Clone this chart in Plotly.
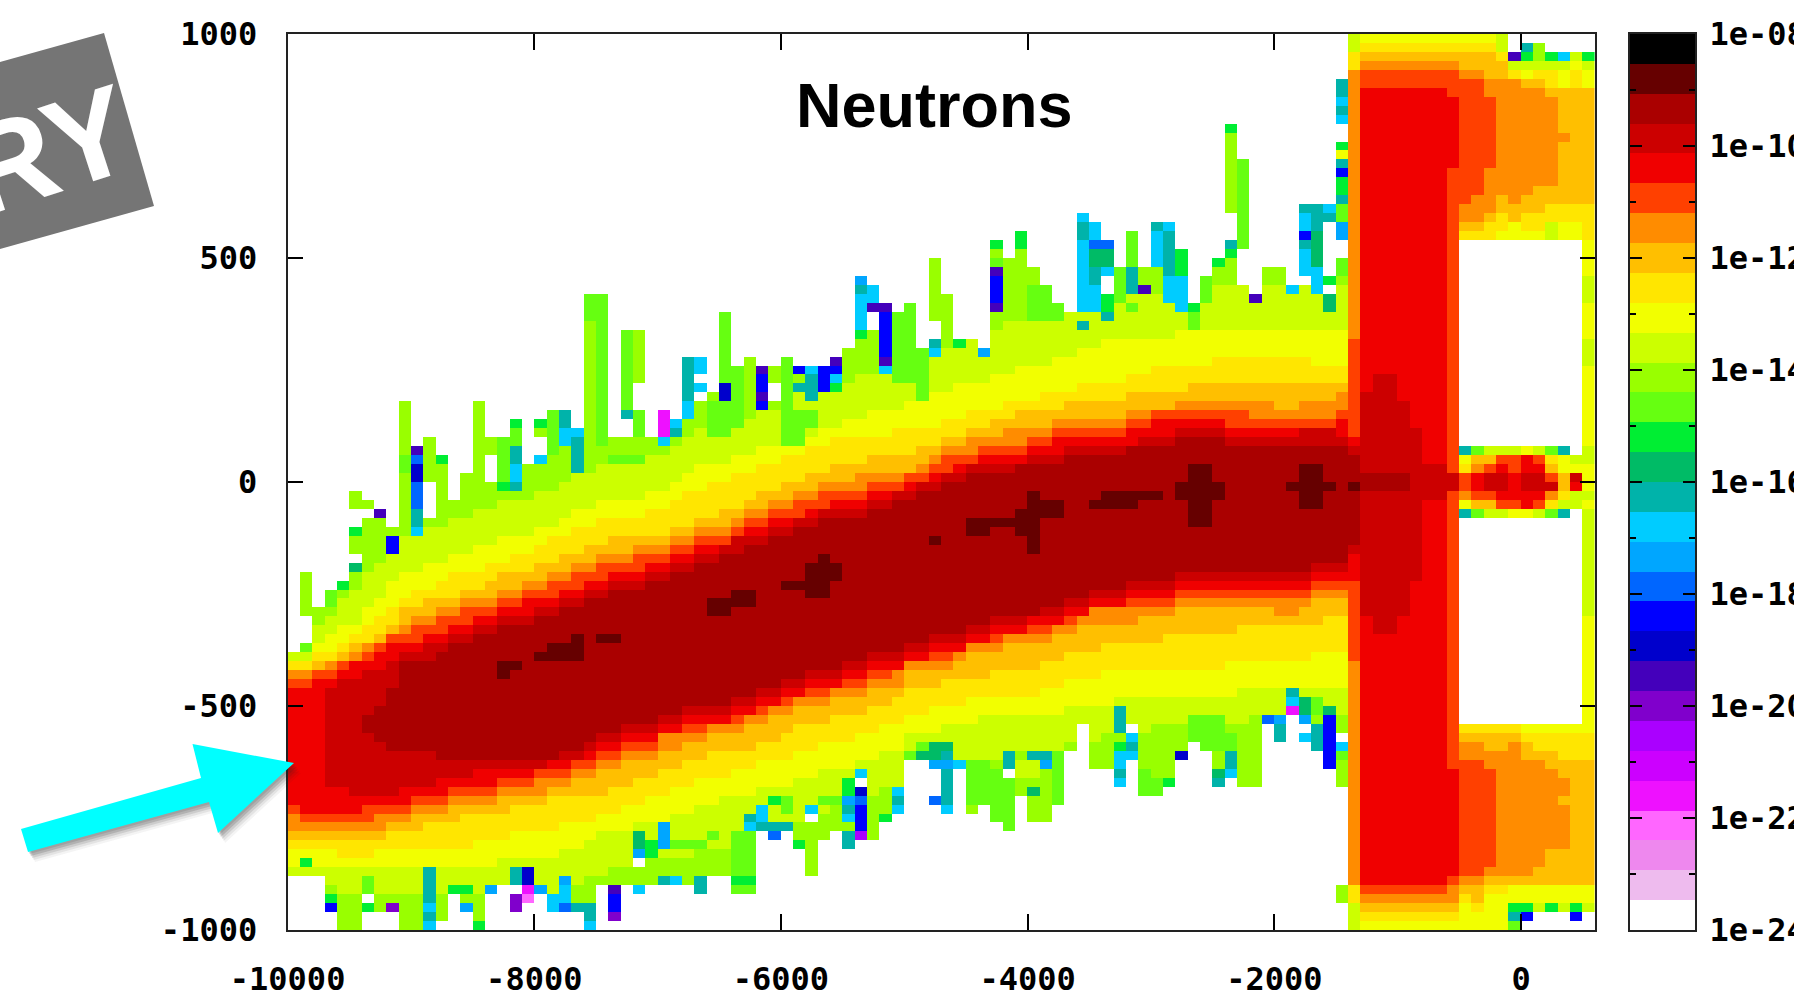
import plotly.graph_objects as go

PAGE_W, PAGE_H = 1794, 994
X_EDGE0, X_STEP, N_COLS = -10000, 100, 106
Y_EDGE0, Y_STEP, N_ROWS = -1000, 20, 100

band_colors = ["#000000", "#660000", "#aa0000", "#cc0000", "#f00000", "#ff4000", "#ff8c00", "#ffbf00",
               "#ffe600", "#f2ff00", "#ccff00", "#99ff00", "#66ff11", "#00ee33", "#00bb66", "#00b3aa",
               "#00ccff", "#00a6ff", "#0066ff", "#0000ff", "#0000cc", "#4400bb", "#8000cc", "#aa00ff",
               "#cc00ff", "#ee11ff", "#ff66ff", "#ee88ee", "#eebbee", "#ffffff"]

x_ticks = [-10000, -8000, -6000, -4000, -2000, 0]
x_labels = ["-10000", "-8000", "-6000", "-4000", "-2000", "0"]
y_ticks = [-1000, -500, 0, 500, 1000]
y_labels = ["-1000", "-500", "0", "500", "1000"]
cb_ticks = [-24, -22, -20, -18, -16, -14, -12, -10, -8]
cb_labels = ["1e-24", "1e-22", "1e-20", "1e-18", "1e-16", "1e-14", "1e-12", "1e-10", "1e-08"]
cb_minor = [-23, -21, -19, -17, -15, -13, -11, -9]

top_edge = [-380,-200,-282,-240,-219,-22,-40,-63,-100,175,
            75,95,40,-40,15,175,95,95,130,40,
            130,150,150,95,412,413,93,335,335,93,
            152,134,275,275,193,372,253,275,253,253,
            275,253,253,253,275,294,453,431,394,372,
            394,294,496,413,312,312,294,531,496,555,
            472,431,394,372,591,572,531,472,555,472,
            572,572,513,394,453,496,795,717,413,472,
            472,431,613,613,613,895]
bottom_edge = [-877,-877,-877,-962,-996,-996,-962,-962,-962,-996,
               -996,-996,-979,-918,-962,-996,-918,-900,-962,-940,
               -918,-962,-962,-962,-996,-900,-978,-900,-918,-900,
               -900,-900,-900,-918,-880,-880,-918,-918,-784,-799,
               -784,-815,-877,-799,-784,-815,-799,-799,-758,-740,
               -620,-620,-720,-740,-638,-740,-720,-758,-780,-698,
               -758,-758,-720,-598,-539,-639,-639,-680,-620,-698,
               -698,-680,-620,-580,-598,-680,-658,-680,-680,-539,
               -580,-520,-565,-595,-639,-680]

t2 = [-600,-600,-600,-600,-600,-600,-520,-500,-460,-400,
      -400,-400,-380,-360,-360,-340,-340,-320,-320,-320,
      -300,-300,-280,-280,-260,-260,-240,-240,-240,-220,
      -220,-200,-200,-180,-180,-160,-160,-140,-140,-120,
      -120,-100,-100,-80,-80,-80,-80,-60,-60,-40,
      -40,-20,-20,0,0,20,20,20,20,40,
      40,40,40,60,60,60,60,60,80,80,
      80,80,100,100,100,100,80,80,80,80,
      80,80,80,80,80,80]
b2 = [-600,-600,-600,-600,-600,-600,-560,-580,-600,-600,
      -600,-600,-620,-620,-620,-620,-620,-620,-620,-620,
      -620,-620,-600,-600,-580,-560,-560,-540,-540,-540,
      -520,-520,-500,-500,-500,-500,-480,-480,-460,-460,
      -440,-440,-420,-420,-420,-400,-400,-380,-380,-380,
      -360,-360,-340,-340,-340,-320,-320,-300,-300,-300,
      -300,-280,-280,-260,-260,-240,-240,-240,-220,-220,
      -220,-220,-200,-200,-200,-200,-200,-200,-200,-200,
      -200,-200,-200,-180,-180,-180]
t3 = [-600,-600,-600,-460,-440,-440,-420,-420,-400,-380,
      -380,-360,-360,-340,-340,-320,-320,-300,-300,-300,
      -280,-280,-260,-260,-240,-240,-220,-220,-220,-200,
      -200,-180,-180,-160,-160,-140,-120,-120,-120,-100,
      -100,-80,-80,-60,-60,-60,-60,-40,-40,-20,
      -20,0,0,20,20,40,40,40,40,40,
      60,60,60,80,80,80,80,80,80,100,
      100,100,120,120,120,120,100,100,100,100,
      100,100,120,120,120,100]
b3 = [-600,-600,-600,-680,-680,-700,-700,-700,-700,-680,
      -680,-680,-660,-660,-660,-640,-640,-640,-640,-640,
      -640,-620,-620,-620,-600,-580,-580,-560,-560,-560,
      -540,-540,-520,-520,-520,-520,-500,-500,-480,-480,
      -460,-460,-440,-440,-440,-420,-420,-400,-400,-400,
      -380,-380,-360,-360,-360,-340,-340,-320,-320,-320,
      -300,-300,-300,-280,-280,-260,-260,-260,-240,-240,
      -240,-240,-220,-220,-220,-220,-220,-220,-220,-220,
      -220,-220,-220,-200,-200,-200]
t4 = [-460,-460,-440,-440,-420,-400,-400,-380,-360,-360,
      -360,-340,-340,-320,-320,-300,-300,-280,-280,-260,
      -260,-260,-240,-240,-220,-220,-200,-200,-200,-180,
      -180,-160,-160,-140,-140,-140,-120,-100,-100,-80,
      -80,-80,-60,-60,-40,-40,-40,-20,-20,-20,
      0,0,20,20,40,40,60,60,60,60,
      80,80,100,100,100,100,100,100,120,120,
      140,140,140,140,140,140,120,120,120,120,
      120,120,120,120,120,140]
b4 = [-720,-740,-740,-740,-740,-740,-720,-720,-720,-720,
      -700,-700,-700,-680,-680,-680,-680,-660,-660,-660,
      -640,-640,-640,-620,-620,-600,-600,-580,-580,-580,
      -560,-560,-540,-540,-540,-540,-520,-520,-500,-500,
      -480,-480,-460,-460,-460,-440,-440,-420,-420,-420,
      -400,-400,-380,-380,-380,-360,-360,-340,-340,-340,
      -320,-320,-320,-300,-300,-280,-280,-280,-260,-260,
      -260,-260,-240,-240,-240,-240,-240,-240,-240,-240,
      -240,-240,-240,-220,-220,-220]
t5 = [-440,-440,-420,-420,-400,-400,-380,-360,-340,-340,
      -320,-320,-300,-300,-280,-280,-280,-260,-260,-240,
      -240,-220,-220,-200,-200,-180,-180,-180,-160,-160,
      -160,-140,-140,-120,-120,-120,-100,-80,-80,-60,
      -60,-40,-40,-20,-20,-20,-20,0,0,0,
      20,20,40,60,60,60,80,80,80,80,
      100,100,120,120,120,120,120,120,140,140,
      160,160,160,160,160,160,160,160,140,140,
      140,140,140,140,140,160]
b5 = [-740,-760,-760,-760,-760,-760,-760,-740,-740,-740,
      -720,-720,-720,-700,-700,-700,-700,-680,-680,-680,
      -660,-660,-660,-640,-640,-620,-620,-600,-600,-600,
      -560,-560,-560,-560,-540,-540,-540,-520,-520,-500,
      -500,-480,-480,-480,-460,-460,-460,-440,-440,-420,
      -400,-400,-400,-400,-380,-360,-360,-360,-340,-340,
      -340,-340,-320,-320,-300,-280,-280,-280,-280,-280,
      -280,-280,-260,-260,-260,-260,-260,-260,-260,-260,
      -260,-260,-260,-240,-240,-240]
t6 = [-420,-420,-420,-400,-400,-380,-360,-360,-340,-320,
      -300,-300,-280,-280,-260,-260,-260,-240,-240,-220,
      -220,-200,-200,-180,-180,-160,-160,-160,-140,-140,
      -140,-120,-120,-100,-100,-100,-80,-60,-60,-40,
      -40,-20,-20,0,0,0,20,20,20,20,
      20,40,60,80,80,100,100,100,120,120,
      120,120,140,140,140,140,140,140,160,160,
      160,160,180,180,180,180,180,180,180,180,
      160,160,180,180,180,200]
b6 = [-780,-780,-780,-780,-780,-780,-780,-780,-760,-760,
      -740,-740,-740,-720,-720,-720,-720,-700,-700,-700,
      -700,-680,-680,-660,-660,-640,-640,-620,-620,-620,
      -600,-600,-580,-580,-560,-560,-560,-540,-540,-520,
      -520,-500,-500,-500,-480,-480,-480,-460,-460,-460,
      -420,-420,-420,-420,-400,-380,-380,-380,-360,-360,
      -360,-360,-340,-340,-320,-320,-320,-320,-320,-300,
      -300,-300,-280,-280,-280,-280,-280,-280,-280,-280,
      -300,-300,-280,-260,-260,-260]
t7 = [-420,-420,-400,-400,-380,-360,-360,-340,-320,-280,
      -280,-260,-260,-260,-240,-240,-220,-200,-200,-200,
      -180,-180,-160,-160,-140,-140,-120,-120,-120,-120,
      -120,-100,-100,-80,-80,-60,-60,-40,-20,-20,
      0,0,20,20,40,40,40,60,60,60,
      60,80,80,100,100,120,120,140,140,160,
      160,160,160,180,180,180,180,180,200,200,
      200,200,200,220,220,220,220,220,220,220,
      220,220,220,220,220,220]
b7 = [-800,-800,-800,-800,-800,-800,-800,-800,-780,-780,
      -780,-760,-760,-760,-740,-740,-740,-740,-720,-720,
      -720,-700,-700,-700,-700,-700,-680,-680,-660,-660,
      -640,-640,-620,-620,-600,-600,-600,-600,-580,-580,
      -560,-540,-540,-540,-520,-520,-520,-500,-500,-480,
      -460,-460,-460,-440,-440,-440,-440,-420,-420,-420,
      -420,-400,-400,-380,-380,-380,-360,-360,-360,-360,
      -360,-340,-340,-340,-340,-340,-340,-320,-320,-320,
      -320,-320,-320,-320,-300,-300]
t8 = [-400,-400,-380,-380,-360,-340,-320,-300,-280,-260,
      -240,-240,-220,-200,-200,-200,-180,-180,-160,-160,
      -140,-120,-120,-100,-100,-80,-80,-80,-80,-60,
      -60,-40,-20,-20,0,0,20,20,40,40,
      60,60,80,80,100,100,100,100,100,120,
      120,120,120,140,140,160,160,160,180,180,
      180,200,200,200,220,220,220,220,240,240,
      260,260,260,260,260,280,280,280,280,280,
      280,280,280,260,260,260]
b8 = [-820,-820,-820,-820,-840,-840,-840,-820,-820,-820,
      -820,-820,-820,-820,-820,-800,-800,-800,-780,-780,
      -780,-780,-760,-760,-760,-740,-740,-720,-720,-700,
      -700,-680,-680,-660,-660,-660,-640,-640,-620,-620,
      -620,-600,-600,-580,-580,-580,-560,-560,-540,-540,
      -520,-520,-500,-500,-500,-480,-480,-480,-480,-480,
      -480,-460,-460,-440,-440,-440,-420,-420,-420,-420,
      -420,-420,-420,-420,-420,-420,-400,-400,-400,-400,
      -400,-400,-400,-380,-380,-380]
t9 = [-400,-400,-360,-340,-320,-320,-280,-260,-220,-200,
      -200,-180,-180,-160,-160,-140,-140,-120,-120,-120,
      -100,-100,-80,-60,-60,-40,-40,-40,-40,-20,
      -20,0,20,40,40,40,60,60,80,80,
      100,100,100,120,120,140,140,160,160,160,
      180,180,200,200,220,220,220,240,240,260,
      260,260,280,280,300,300,320,320,320,320,
      320,320,340,340,340,340,340,340,340,340,
      340,340,340,340,340,340]
b9 = [-860,-860,-860,-860,-860,-860,-860,-860,-860,-860,
      -860,-860,-860,-860,-860,-860,-860,-840,-840,-840,
      -840,-840,-820,-820,-800,-780,-780,-780,-760,-760,
      -760,-740,-740,-720,-720,-700,-700,-700,-680,-680,
      -680,-660,-660,-640,-640,-640,-620,-620,-600,-600,
      -560,-560,-560,-540,-540,-540,-520,-520,-520,-520,
      -520,-520,-520,-500,-500,-500,-500,-480,-480,-480,
      -480,-480,-480,-480,-480,-480,-480,-460,-460,-460,
      -460,-460,-460,-460,-460,-460]
t10 = [-380,-360,-320,-300,-260,-240,-200,-180,-160,-120,
       -120,-100,-100,-80,-80,-60,-60,-40,-40,-40,
       -20,-20,0,20,20,40,40,60,60,60,
       60,80,100,120,120,140,140,140,160,160,
       180,200,200,220,220,220,240,240,260,260,
       280,280,300,300,320,320,340,340,360,360,
       360,380,380,400,400,420,420,420,420,420,
       420,420,420,420,440,440,440,440,440,440,
       440,440,440,440,440,440]
b10 = [-900,-900,-900,-900,-920,-920,-920,-920,-920,-920,
       -920,-920,-920,-920,-920,-920,-920,-920,-920,-920,
       -920,-920,-900,-900,-880,-880,-860,-860,-860,-840,
       -840,-840,-840,-820,-820,-820,-800,-800,-780,-780,
       -760,-760,-740,-740,-720,-720,-700,-700,-680,-680,
       -660,-660,-640,-640,-640,-640,-620,-620,-620,-600,
       -600,-600,-600,-580,-580,-580,-560,-560,-560,-560,
       -540,-540,-540,-540,-540,-540,-540,-540,-520,-520,
       -520,-520,-520,-520,-520,-520]

core_patches = [(17,17,-405,-440),(18,18,-405,-420),(20,23,-385,-400),(21,23,-360,-385),(23,23,-340,-360),
                (25,26,-342,-360),(34,35,-260,-301),(36,37,-241,-282),(40,41,-220,-238),(42,43,-182,-256),
                (43,43,-160,-182),(44,44,-182,-216),(52,52,-122,-141),(55,56,-85,-118),(57,58,-78,-96),
                (59,60,-63,-115),(60,60,-18,-155),(61,62,-41,-78),(65,68,-41,-59),(66,70,-22,-41),
                (72,75,2,-37),(73,74,34,-96),(81,84,3,-22),(82,83,34,-59),(86,86,0,-20)]

# fringe streaks that sit under the isolated coloured cells
streaks = [(26,64,33,12),(27,64,33,12),(28,64,33,12),(34,175,93,12),(35,175,93,12),(40,130,70,12),(41,170,90,12),
           (42,170,110,12),(60,430,360,12),(61,431,370,12),(62,394,350,12),(68,400,380,12),(73,394,340,12),(74,453,400,12),
           (28,-784,-814,14),(29,-799,-840,13),(31,-799,-818,12),(32,-799,-818,12),(33,-799,-818,12),(34,-784,-799,12),
           (36,-784,-918,12),(37,-784,-918,12),(36,-881,-900,13),(37,-881,-900,13),(39,-702,-720,13),(40,-702,-740,12),
           (43,-702,-720,12),(44,-702,-720,12),(45,-660,-700,13),(50,-600,-620,12),(51,-580,-598,12),(52,-580,-620,14),
           (53,-580,-598,14),(55,-620,-720,12),(56,-620,-720,12),(57,-639,-758,12),(58,-660,-780,12),(59,-620,-660,10),
           (60,-620,-660,10),(62,-598,-720,12),(69,-640,-698,12),(70,-660,-698,12),(71,-660,-680,13),(73,-520,-580,12),
           (74,-520,-598,12),(75,-520,-600,12),(76,-560,-598,12),(83,-470,-520,12)]

specks = [(1,-300,-360,-1),(1,-360,-380,12),(3,-240,-281,12),(4,-219,-240,13),(5,-100,-123,13),(5,-63,-100,-1),
          (5,-156,-182,-1),(5,-182,-200,14),(6,-63,-85,-1),(7,-63,-82,21),(8,-123,-156,19),(9,60,20,12),
          (10,75,56,21),(10,56,34,18),(10,34,1,20),(10,1,-63,18),(10,-63,-100,15),(10,-100,-123,16),
          (11,-5,-78,-1),(12,56,34,13),(16,56,-5,-1),(17,95,-5,12),(17,-5,-23,13),(18,130,115,13),(18,115,74,12),
          (18,74,34,15),(18,34,-5,16),(18,-5,-23,15),(20,130,115,13),(20,93,56,-1),(20,56,34,16),(21,150,60,12),
          (22,150,115,15),(22,115,79,16),(23,115,93,16),(23,93,18,15),(24,412,370,12),(25,412,90,12),(27,152,134,15),
          (27,134,93,-1),(27,335,152,12),(28,212,152,-1),(28,152,93,12),(30,152,93,25),(30,93,75,16),(31,134,115,16),
          (31,115,93,15),(32,275,182,15),(32,182,134,16),(33,275,234,16),(33,234,212,-1),(33,212,193,16),
          (33,193,175,-1),(35,372,212,12),(35,212,175,20),(36,253,120,12),(38,253,234,21),(38,234,193,19),
          (38,193,175,21),(38,175,152,19),(39,212,175,-1),(40,275,130,12),(41,253,234,19),(41,212,193,15),
          (42,253,234,16),(42,234,175,15),(43,253,193,19),(44,275,253,21),(44,253,234,19),(44,234,212,16),
          (44,212,193,13),(46,453,430,17),(46,430,415,15),(46,415,334,16),(46,334,312,13),(47,431,394,16),
          (47,394,375,21),(47,375,334,-1),(48,394,375,21),(48,375,272,19),(48,272,253,21),(48,253,234,16),
          (49,372,220,12),(50,394,220,12),(51,294,172,12),(52,353,312,-1),(52,312,294,15),(52,294,275,16),
          (54,312,294,13),(56,294,275,17),(57,531,516,13),(57,495,472,12),(57,472,458,21),(57,458,394,19),
          (57,394,372,21),(59,555,520,13),(64,591,572,16),(64,572,535,15),(64,535,375,16),(64,357,335,15),
          (65,572,531,16),(65,531,516,18),(65,513,472,14),(65,472,431,15),(65,431,375,16),(66,531,516,18),
          (66,516,472,14),(66,472,455,16),(66,455,413,-1),(66,413,375,13),(66,375,357,15),(67,472,400,12),
          (68,555,472,12),(68,472,413,15),(69,431,413,21),(70,572,557,15),(70,557,472,16),(71,572,557,16),
          (71,557,457,15),(71,457,397,16),(72,513,457,13),(72,457,375,16),(73,394,372,13),(75,496,478,13),
          (76,795,777,13),(76,591,531,-1),(76,531,516,15),(76,516,496,13),(77,516,431,-1),(77,717,516,12),
          (78,413,398,21),(81,431,413,16),(82,613,595,15),(82,595,554,16),(82,554,531,19),(82,531,516,15),
          (82,516,457,16),(82,457,431,-1),(83,613,554,15),(83,554,471,14),(83,471,413,16),(84,613,595,16),
          (84,595,576,15),(84,576,453,-1),(84,453,431,13),(84,431,416,-1),(84,413,375,14),(85,895,850,15),
          (85,850,835,16),(85,835,813,15),(85,813,795,16),(85,795,750,-1),(85,750,735,13),(85,735,717,9),
          (85,717,695,15),(85,695,672,19),(85,672,650,13),(85,650,616,15),(85,616,575,12),(85,575,535,17),
          (85,535,494,-1),(85,494,457,12),
          (1,-843,-862,13),(3,-921,-944,13),(3,-944,-962,19),(6,-881,-918,12),(6,-918,-944,-1),(6,-944,-962,13),
          (8,-944,-962,22),(11,-862,-944,15),(11,-944,-962,16),(11,-962,-979,15),(11,-979,-996,16),(13,-903,-918,13),
          (14,-903,-918,13),(14,-944,-962,17),(15,-979,-996,13),(16,-903,-918,17),(18,-862,-903,15),(18,-903,-921,-1),
          (18,-921,-962,22),(19,-862,-903,20),(19,-903,-921,25),(19,-921,-940,26),(20,-903,-918,17),(21,-921,-962,16),
          (22,-881,-903,17),(22,-903,-944,16),(22,-944,-962,18),(23,-944,-962,15),(24,-944,-979,15),(24,-979,-996,16),
          (26,-903,-921,21),(26,-921,-962,19),(26,-962,-978,22),(28,-818,-840,17),(28,-840,-858,-1),(28,-903,-918,16),
          (30,-758,-818,17),(30,-881,-900,15),(31,-881,-900,16),(33,-881,-918,15),(37,-743,-758,15),
          (37,-758,-780,16),(38,-725,-758,16),(38,-758,-780,15),(39,-758,-780,15),(39,-784,-799,18),(40,-758,-780,15),
          (41,-799,-815,13),(42,-725,-740,16),(42,-740,-758,-1),(45,-702,-720,17),(45,-720,-740,15),(45,-740,-758,16),
          (45,-780,-815,15),(46,-639,-658,16),(46,-658,-680,-1),(46,-680,-702,20),(46,-702,-720,18),(46,-720,-780,19),
          (46,-784,-799,23),(48,-739,-758,13),(49,-684,-702,16),(49,-702,-720,15),(49,-720,-740,16),(51,-598,-620,14),
          (52,-620,-639,17),(52,-639,-698,-1),(52,-698,-720,18),(53,-598,-620,15),(53,-620,-639,17),(53,-639,-720,15),
          (53,-720,-740,16),(54,-620,-638,16),(58,-598,-639,15),(58,-639,-658,-1),(60,-598,-620,15),(60,-680,-698,14),
          (61,-598,-620,15),(61,-620,-639,17),(67,-500,-539,15),(67,-539,-561,15),(67,-580,-598,13),(67,-598,-639,16),
          (67,-639,-658,15),(67,-658,-680,16),(68,-539,-561,-1),(68,-561,-580,16),(68,-580,-598,15),(68,-598,-620,16),
          (72,-598,-620,20),(75,-639,-658,14),(75,-658,-680,15),(76,-598,-639,15),(76,-639,-658,16),(79,-520,-539,18),
          (80,-520,-539,17),(80,-539,-580,15),(81,-460,-479,15),(81,-479,-502,16),(81,-502,-520,25),(82,-479,-520,14),
          (82,-520,-539,17),(82,-539,-561,-1),(82,-561,-580,16),(83,-539,-595,15),(84,-500,-520,14),(84,-520,-639,19),
          (85,-561,-580,-1),(85,-580,-598,16),(85,-598,-620,12),(85,-900,-940,11)]

# right-hand block: (level, y at which the run ends), reading each column from y=1000 downwards; -1 = no data
right_cols = {
    86: [(10,960),(8,920),(6,320),(5,100),(4,80),(3,60),(2,-140),(3,-160),(4,-220),(5,-400),(6,-900),(8,-940),(10,-1000)],
    87: [(9,980),(8,960),(7,940),(6,920),(5,880),(4,200),(3,20),(2,-20),(3,-300),(4,-900),(5,-920),(6,-940),(7,-960),(8,-980),(9,-1000)],
    88: [(9,980),(8,960),(7,940),(6,920),(5,880),(4,240),(3,20),(2,-20),(3,-340),(4,-900),(5,-920),(6,-940),(7,-960),(8,-980),(9,-1000)],
    89: [(9,980),(8,960),(7,940),(6,920),(5,880),(4,240),(3,20),(2,-20),(3,-340),(4,-900),(5,-920),(6,-940),(7,-960),(8,-980),(9,-1000)],
    90: [(9,980),(8,960),(7,940),(6,920),(5,880),(4,180),(3,20),(2,-20),(3,-300),(4,-900),(5,-920),(6,-940),(7,-960),(8,-980),(9,-1000)],
    91: [(9,980),(8,960),(7,940),(6,920),(5,880),(4,120),(3,-220),(4,-900),(5,-920),(6,-940),(7,-960),(8,-980),(9,-1000)],
    92: [(9,980),(8,960),(7,940),(6,920),(5,880),(4,40),(3,-40),(4,-900),(5,-920),(6,-940),(7,-960),(8,-980),(9,-1000)],
    93: [(9,980),(8,960),(7,940),(6,920),(5,880),(4,40),(3,-40),(4,-900),(5,-920),(6,-940),(7,-960),(8,-980),(9,-1000)],
    94: [(9,980),(8,960),(7,940),(6,920),(5,860),(4,700),(5,20),(3,-20),(5,-640),(4,-880),(5,-900),(6,-940),(7,-960),(8,-980),(9,-1000)],
    95: [(9,980),(8,960),(7,920),(6,900),(5,620),(6,580),(7,560),(8,540),(-1,80),(-1,-540),(8,-560),(7,-580),(6,-620),(5,-880),(6,-900),(7,-920),(8,-940),(9,-1000)],
    96: [(9,980),(8,960),(7,920),(6,900),(5,640),(6,580),(7,560),(8,540),(-1,-540),(8,-560),(7,-580),(6,-620),(5,-880),(6,-900),(7,-940),(8,-960),(9,-1000)],
    97: [(9,980),(8,960),(7,900),(6,860),(5,700),(6,600),(7,580),(8,540),(-1,-540),(8,-560),(7,-600),(6,-640),(5,-860),(6,-880),(7,-900),(8,-920),(9,-1000)],
    98: [(10,960),(8,940),(7,900),(6,640),(7,600),(8,560),(9,540),(-1,-540),(8,-560),(7,-600),(6,-880),(7,-900),(8,-920),(9,-1000)],
    99: [(-1,960),(21,940),(10,920),(8,900),(6,620),(7,580),(9,540),(-1,-540),(8,-560),(7,-580),(6,-880),(7,-900),(9,-940),(13,-960),(15,-980),(12,-1000)],
    100: [(-1,980),(15,960),(13,940),(10,920),(9,900),(7,880),(6,640),(7,600),(8,560),(9,540),(-1,-540),(9,-560),(8,-580),(7,-620),(6,-880),(7,-900),(9,-940),(13,-960),(19,-980),(-1,-1000)],
    101: [(-1,980),(11,940),(10,920),(8,900),(7,880),(6,660),(7,600),(8,560),(9,540),(-1,-540),(9,-560),(8,-600),(7,-620),(6,-860),(7,-900),(9,-940),(10,-960),(-1,-1000)],
    102: [(-1,960),(13,940),(10,920),(8,880),(7,860),(6,660),(7,620),(8,580),(10,540),(-1,-540),(9,-560),(8,-600),(7,-640),(6,-820),(7,-900),(9,-940),(13,-960),(-1,-1000)],
    103: [(-1,960),(16,940),(10,920),(9,880),(7,780),(6,760),(7,620),(8,580),(9,540),(-1,-540),(9,-560),(8,-620),(7,-660),(6,-700),(7,-720),(6,-820),(7,-900),(9,-940),(10,-960),(-1,-1000)],
    104: [(-1,960),(10,940),(9,920),(8,880),(7,620),(8,580),(9,540),(-1,-540),(9,-560),(8,-620),(7,-900),(9,-940),(13,-960),(19,-980),(-1,-1000)],
    105: [(-1,960),(13,940),(10,920),(9,880),(7,620),(8,540),(9,460),(10,400),(9,320),(10,260),(9,80),(9,-80),(10,-300),(9,-560),(8,-620),(7,-900),(9,-940),(10,-960),(-1,-1000)],
}

# thin strip around y=0 for the columns from -500 to 600, y from 80 down to -80
strip_rows = [[15,12,10,10,10,9,10,12,15,-1,10],
              [9,7,7,5,5,4,5,8,9,10,10],
              [8,6,5,4,5,4,4,7,9,9,9],
              [5,4,3,3,4,3,3,5,7,3,9],
              [5,4,3,3,4,3,3,3,7,4,9],
              [6,5,5,4,4,4,4,6,8,10,10],
              [9,7,7,5,5,4,5,8,10,10,9],
              [15,12,10,10,9,9,10,12,15,-1,10]]


def level_value(level):
    return -8 - (level + 0.5) * 16 / 30


def row_of(y):
    return int(round((y - Y_EDGE0) / Y_STEP))


grid = [[None] * N_COLS for _ in range(N_ROWS)]
pairs = [(t2, b2, 2), (t3, b3, 3), (t4, b4, 4), (t5, b5, 5), (t6, b6, 6),
         (t7, b7, 7), (t8, b8, 8), (t9, b9, 9), (t10, b10, 10)]
for c in range(86):
    for r in range(N_ROWS):
        yc = Y_EDGE0 + (r + 0.5) * Y_STEP
        if yc > top_edge[c] or yc < bottom_edge[c]:
            continue
        lev = 11
        for tt, bb, l in pairs:
            if bb[c] < yc < tt[c]:
                lev = l
                break
        grid[r][c] = lev


def put(c, hi, lo, lev, keep_empty=False):
    r0, r1 = row_of(lo), row_of(hi)
    if r1 == r0:
        r1 += 1
    for r in range(max(r0, 0), min(r1, N_ROWS)):
        if keep_empty and grid[r][c] is None:
            continue
        grid[r][c] = None if lev < 0 else lev


for c, hi, lo, lev in streaks:
    put(c, hi, lo, lev, keep_empty=True)
for c, hi, lo, lev in specks:
    put(c, hi, lo, lev)
for c, runs in right_cols.items():
    hi = 1000
    for lev, lo in runs:
        put(c, hi, lo, lev)
        hi = lo
for k, row in enumerate(strip_rows):
    for n, lev in enumerate(row):
        put(95 + n, 80 - 20 * k, 60 - 20 * k, lev)
for c0, c1, hi, lo in core_patches:
    for c in range(c0, c1 + 1):
        put(c, hi, lo, 1)

z = [[None if v is None else level_value(v) for v in row] for row in grid]
xs = [X_EDGE0 + (i + 0.5) * X_STEP for i in range(N_COLS)]
ys = [Y_EDGE0 + (j + 0.5) * Y_STEP for j in range(N_ROWS)]

stops = []
n = len(band_colors)
for i in range(n):
    col = band_colors[n - 1 - i]
    stops.append([i / n, col])
    stops.append([(i + 1) / n, col])

tickfont = dict(family="DejaVu Sans Mono", size=32, color="black", weight=700)


def px(x):
    return x / PAGE_W


def py(y):
    return 1 - y / PAGE_H


fig = go.Figure()
fig.add_trace(go.Heatmap(x=xs, y=ys, z=z, zmin=-24, zmax=-8, colorscale=stops, showscale=False,
                         hoverongaps=False, xaxis="x", yaxis="y"))
cb_y = [level_value(i) for i in range(n)]
fig.add_trace(go.Heatmap(x=[0], y=cb_y, z=[[v] for v in cb_y], zmin=-24, zmax=-8, colorscale=stops,
                         showscale=False, xaxis="x2", yaxis="y2"))


def poly(points):
    return "M " + " L ".join(f"{px(a):.5f} {py(b):.5f}" for a, b in points) + " Z"


banner = [(104, 33), (154, 206), (0, 249), (0, 62)]
arrow = [(21, 829), (28, 852), (209, 802), (218, 833), (294, 763), (192.5, 744), (201, 778)]
shapes = [dict(type="path", xref="paper", yref="paper", path=poly(banner), fillcolor="#757575",
               line=dict(width=0), layer="above")]
for off, alpha in [(10, 0.05), (8, 0.08), (6, 0.12), (4, 0.16), (2, 0.12)]:
    shapes.append(dict(type="path", xref="paper", yref="paper",
                       path=poly([(a + off * 0.7, b + off) for a, b in arrow]),
                       fillcolor=f"rgba(40,40,40,{alpha})", line=dict(width=0), layer="above"))
shapes.append(dict(type="path", xref="paper", yref="paper", path=poly(arrow), fillcolor="#00ffff",
                   line=dict(width=0), layer="above"))

fig.update_layout(
    width=PAGE_W, height=PAGE_H, autosize=False, margin=dict(l=0, r=0, t=0, b=0),
    paper_bgcolor="white", plot_bgcolor="white", showlegend=False, shapes=shapes,
    xaxis=dict(domain=[px(287.6), px(1595)], range=[-10000, 600], tickvals=x_ticks, ticktext=x_labels,
               ticks="inside", ticklen=16, tickwidth=2, tickcolor="black", showgrid=False, zeroline=False,
               showline=True, linecolor="#222222", linewidth=2, mirror="ticks", tickfont=tickfont,
               tickangle=0, ticklabelstandoff=20, anchor="y", automargin=False),
    yaxis=dict(domain=[py(930), py(34)], range=[-1000, 1000], tickvals=y_ticks, ticktext=y_labels,
               ticks="inside", ticklen=15, tickwidth=2, tickcolor="black", showgrid=False, zeroline=False,
               showline=True, linecolor="#222222", linewidth=2, mirror="ticks", tickfont=tickfont,
               ticklabelstandoff=22, anchor="x", automargin=False),
    xaxis2=dict(domain=[px(1630), px(1695)], range=[-0.5, 0.5], showticklabels=False, ticks="",
                showgrid=False, zeroline=False, showline=True, linecolor="#222222", linewidth=2,
                mirror=True, anchor="y2", automargin=False),
    yaxis2=dict(domain=[py(930), py(34)], range=[-24, -8], side="right", tickvals=cb_ticks, ticktext=cb_labels,
                ticks="inside", ticklen=12, tickwidth=2, tickcolor="black", showgrid=False, zeroline=False,
                showline=True, linecolor="#222222", linewidth=2, mirror="ticks", tickfont=tickfont,
                ticklabelstandoff=6, anchor="x2", automargin=False,
                minor=dict(tickvals=cb_minor, ticks="inside", ticklen=6, tickwidth=2, tickcolor="black")),
    annotations=[
        dict(text="Neutrons", xref="paper", yref="paper", x=px(934), y=py(105), showarrow=False,
             xanchor="center", yanchor="middle",
             font=dict(family="Liberation Sans", size=63, color="black", weight=700)),
        dict(text="RY", xref="paper", yref="paper", x=px(47), y=py(150), showarrow=False,
             xanchor="center", yanchor="middle", textangle=-18,
             font=dict(family="Liberation Sans", size=126, color="white", weight=700)),
    ],
)

fig.write_html("out.html", config={"displayModeBar": False},
               post_script="document.body.style.margin='0';document.body.style.overflow='hidden';")
